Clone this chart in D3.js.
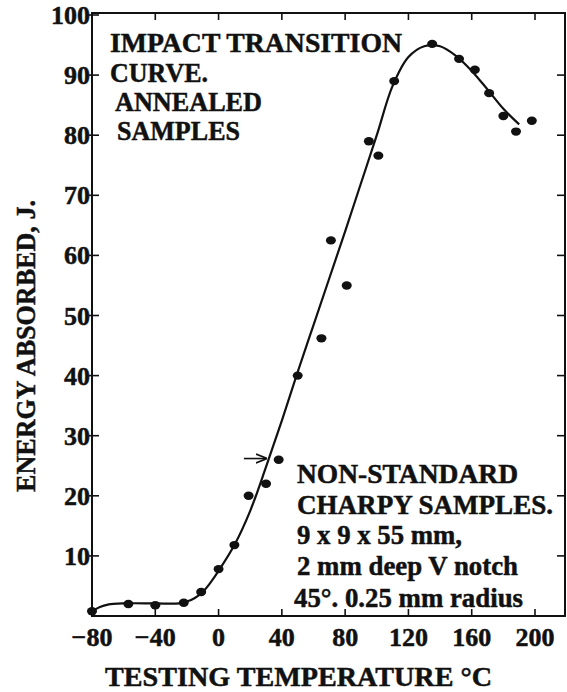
<!DOCTYPE html>
<html>
  <head>
    <meta charset="utf-8" />
    <title>Impact Transition Curve</title>
    <script src="https://d3js.org/d3.v7.min.js"></script>
    <style>

      body {
        margin: 0;
        background: #fff;
      }

      text {
        font-family: "Liberation Serif", "DejaVu Serif", serif;
        font-weight: bold;
        fill: #111;
        stroke: #111;
        stroke-width: 0.5px;
      }

    </style>
  </head>
  <body>

    <svg id="viz"></svg>

    <script>

      // measured points, temperature (C) vs energy absorbed (J)
      var pointTemp = [-80, -57, -40, -22, -11, 0, 10, 19, 30, 38, 50, 65, 71, 81, 95, 101, 111, 135, 152, 162, 171, 180, 188, 198];
      var pointEnergy = [0.8, 2.0, 1.8, 2.2, 4.0, 7.8, 11.8, 20, 22, 26, 40, 46.2, 62.5, 55, 79, 76.6, 89, 95.2, 92.7, 90.9, 87, 83.2, 80.6, 82.4];

      // hand drawn fitted curve
      var curveTemp = [-80, -75, -70, -60, -40, -25, -20, -15, -10, -5, 0, 10, 20, 30, 40, 50, 60, 70, 80, 90, 100, 110, 120, 130, 140, 150, 160, 170, 180, 190];
      var curveEnergy = [0.8, 1.5, 1.9, 2.1, 2.1, 2.1, 2.4, 3.0, 4.0, 5.6, 7.5, 11.8, 17.5, 24.8, 32.5, 40.6, 48.4, 56.2, 64, 72, 80, 88.2, 93, 94.8, 94.8, 93.2, 90.7, 87.6, 84.4, 81.8];

      var xTicks = [-80, -40, 0, 40, 80, 120, 160, 200];
      var yTicks = [10, 20, 30, 40, 50, 60, 70, 80, 90, 100];

      var notesTop = [
        {"text": "IMPACT  TRANSITION", "x": 110, "y": 52, "w": 292},
        {"text": "CURVE.", "x": 110, "y": 82, "w": 98},
        {"text": "ANNEALED", "x": 115, "y": 111, "w": 147},
        {"text": "SAMPLES", "x": 117, "y": 140, "w": 123}
      ];

      var notesBottom = [
        {"text": "NON-STANDARD", "x": 297, "y": 483, "w": 221},
        {"text": "CHARPY SAMPLES.", "x": 297, "y": 514, "w": 256},
        {"text": "9 x 9 x 55 mm,", "x": 297, "y": 544, "w": 165},
        {"text": "2 mm deep V notch", "x": 297, "y": 575, "w": 221},
        {"text": "45°. 0.25 mm radius", "x": 294, "y": 607, "w": 229}
      ];

      var width = 567;
      var height = 692;
      var frame = {left: 92, right: 565, top: 13, bottom: 616};

      var svg = d3.select("#viz")
        .attr("width", width)
        .attr("height", height);

      var x = d3.scaleLinear()
        .domain([-80, 200])
        .range([frame.left, 535]);

      var y = d3.scaleLinear()
        .domain([0, 100])
        .range([frame.bottom, 15]);

      // frame
      svg.append("rect")
        .attr("x", frame.left)
        .attr("y", frame.top)
        .attr("width", frame.right - frame.left)
        .attr("height", frame.bottom - frame.top)
        .attr("fill", "none")
        .attr("stroke", "#111")
        .attr("stroke-width", 2);

      // ticks, all pointing inwards
      var ticks = svg.append("g")
        .attr("stroke", "#111")
        .attr("stroke-width", 1.6);

      ticks.selectAll(".yl").data(yTicks).enter().append("line")
        .attr("x1", frame.left - 3).attr("x2", frame.left + 7)
        .attr("y1", function(d) { return y(d); })
        .attr("y2", function(d) { return y(d); });

      ticks.selectAll(".yr").data(yTicks.slice(0, 9)).enter().append("line")
        .attr("x1", frame.right - 8).attr("x2", frame.right)
        .attr("y1", function(d) { return y(d); })
        .attr("y2", function(d) { return y(d); });

      ticks.selectAll(".xb").data(xTicks.slice(1)).enter().append("line")
        .attr("x1", function(d) { return x(d); })
        .attr("x2", function(d) { return x(d); })
        .attr("y1", frame.bottom).attr("y2", frame.bottom - 7);

      ticks.selectAll(".xt").data(xTicks.slice(1)).enter().append("line")
        .attr("x1", function(d) { return x(d); })
        .attr("x2", function(d) { return x(d); })
        .attr("y1", frame.top).attr("y2", frame.top + 7);

      // tick labels
      svg.selectAll(".ylab").data(yTicks).enter().append("text")
        .attr("x", 90)
        .attr("y", function(d) { return y(d) + 9; })
        .attr("text-anchor", "end")
        .attr("font-size", 26)
        .text(function(d) { return d; });

      svg.selectAll(".xlab").data(xTicks).enter().append("text")
        .attr("x", function(d) { return x(d); })
        .attr("y", 646)
        .attr("text-anchor", "middle")
        .attr("font-size", 26)
        .text(function(d) { return d < 0 ? "\u2212" + Math.abs(d) : d; });

      // axis titles
      svg.append("text")
        .attr("transform", "translate(35,346) rotate(-90)")
        .attr("text-anchor", "middle")
        .attr("font-size", 28)
        .attr("textLength", 292)
        .attr("lengthAdjust", "spacingAndGlyphs")
        .text("ENERGY  ABSORBED, J.");

      svg.append("text")
        .attr("x", 105)
        .attr("y", 686)
        .attr("font-size", 28)
        .attr("textLength", 387)
        .attr("lengthAdjust", "spacingAndGlyphs")
        .text("TESTING  TEMPERATURE °C");

      // curve
      var line = d3.line()
        .x(function(d) { return x(d[0]); })
        .y(function(d) { return y(d[1]); })
        .curve(d3.curveCatmullRom);

      svg.append("path")
        .datum(d3.zip(curveTemp, curveEnergy))
        .attr("d", line)
        .attr("fill", "none")
        .attr("stroke", "#111")
        .attr("stroke-width", 2.2);

      svg.selectAll("ellipse")
        .data(d3.zip(pointTemp, pointEnergy))
        .enter().append("ellipse")
        .attr("cx", function(d) { return x(d[0]); })
        .attr("cy", function(d) { return y(d[1]); })
        .attr("rx", 5)
        .attr("ry", 4.2)
        .attr("fill", "#111");

      // arrow marking the transition temperature
      svg.append("defs").append("marker")
        .attr("id", "head")
        .attr("viewBox", "0 0 10 10")
        .attr("refX", 9).attr("refY", 5)
        .attr("markerWidth", 7).attr("markerHeight", 7)
        .attr("orient", "auto")
        .append("path")
        .attr("d", "M0,1 L10,5 L0,9")
        .attr("fill", "none")
        .attr("stroke", "#111")
        .attr("stroke-width", 1.6);

      svg.append("line")
        .attr("x1", x(16)).attr("x2", x(30))
        .attr("y1", y(26.2)).attr("y2", y(26.2))
        .attr("stroke", "#111")
        .attr("stroke-width", 1.6)
        .attr("marker-end", "url(#head)");

      // annotations
      svg.selectAll(".note")
        .data(notesTop.concat(notesBottom))
        .enter().append("text")
        .attr("x", function(d) { return d.x; })
        .attr("y", function(d) { return d.y; })
        .attr("font-size", 28)
        .attr("textLength", function(d) { return d.w; })
        .attr("lengthAdjust", "spacingAndGlyphs")
        .text(function(d) { return d.text; });

    </script>
  </body>
</html>
